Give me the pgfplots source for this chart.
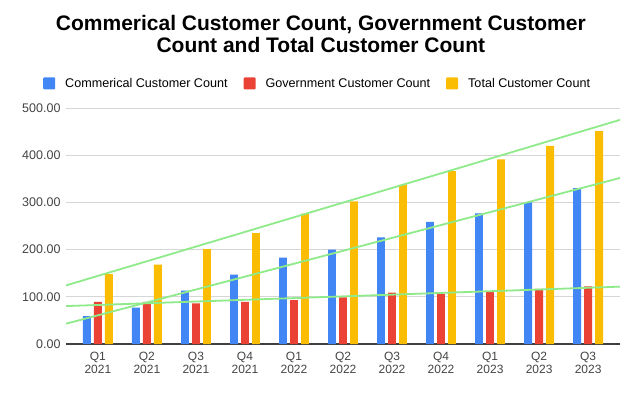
\documentclass[border=0pt]{standalone}
\usepackage{pgfplots}
\pgfplotsset{compat=1.18}
\usepackage{fontspec}
\setmainfont{Liberation Sans}
\definecolor{cblue}{HTML}{4285F4}
\definecolor{cred}{HTML}{EA4335}
\definecolor{cyel}{HTML}{FBBC04}
\definecolor{ctrend}{HTML}{8FEA8A}
\definecolor{ticktext}{HTML}{444444}
\definecolor{gridc}{HTML}{D6D6D6}
\begin{document}
\begin{tikzpicture}
\path[use as bounding box] (0bp,0bp) rectangle (640bp,396bp);
\begin{axis}[
  at={(66bp,52bp)}, anchor=south west,
  scale only axis, width=554bp, height=236bp,
  xmin=-0.65, xmax=10.65, ymin=0, ymax=500,
  xtick={0,...,10},
  xticklabels={Q1\\2021,Q2\\2021,Q3\\2021,Q4\\2021,Q1\\2022,Q2\\2022,Q3\\2022,Q4\\2022,Q1\\2023,Q2\\2023,Q3\\2023},
  xticklabel style={align=center, font=\fontsize{12bp}{13bp}\selectfont, text=ticktext, yshift=-5bp},
  ytick={0,100,...,500},
  yticklabel style={font=\fontsize{12.5bp}{14bp}\selectfont, text=ticktext, xshift=-2bp, /pgf/number format/fixed, /pgf/number format/fixed zerofill, /pgf/number format/precision=2},
  /pgf/number format/assume math mode=true,
  scaled y ticks=false,
  ymajorgrids, major grid style={gridc, line width=0.9bp},
  major tick length=0pt,
  axis x line*=bottom, axis y line*=left,
  x axis line style={draw=black!75, line width=1.2bp, -},
  y axis line style={draw=none},
  title={Commerical Customer Count, Government Customer\\Count and Total Customer Count},
  title style={at={(0.460,1.289)}, anchor=center, align=center, font=\fontsize{21bp}{21.6bp}\selectfont\bfseries},
  legend columns=3,
  legend style={at={(-0.0415,1.104)}, anchor=west, draw=none, fill=none, font=\fontsize{12.6bp}{15bp}\selectfont, column sep=0bp, inner sep=0pt,
    /tikz/every odd column/.append style={column sep=8bp},
    /tikz/every even column/.append style={column sep=14bp}},
  legend cell align=left,
  legend image code/.code={\fill[#1, rounded corners=1bp] (0bp,-6bp) rectangle (12bp,6bp);},
]
\addplot[ybar, bar width=7.8bp, bar shift=-11bp, fill=cblue, draw=none] coordinates {
(0,59) (1,77) (2,113) (3,147) (4,183) (5,200) (6,226) (7,259) (8,277) (9,300) (10,330)};
\addlegendentry{Commerical Customer Count}
\addplot[ybar, bar width=7.8bp, bar shift=0bp, fill=cred, draw=none] coordinates {
(0,89) (1,89) (2,86) (3,89) (4,93) (5,99) (6,109) (7,106) (8,111) (9,117) (10,122)};
\addlegendentry{Government Customer Count}
\addplot[ybar, bar width=7.8bp, bar shift=11bp, fill=cyel, draw=none] coordinates {
(0,148) (1,168) (2,201) (3,235) (4,276) (5,302) (6,337) (7,366) (8,391) (9,420) (10,451)};
\addlegendentry{Total Customer Count}
% trendlines (linear fits, endpoints at plot edges)
\addplot[sharp plot, forget plot, ctrend, line width=1.8bp] coordinates {(-0.65,43.0) (10.65,351.8)};
\addplot[sharp plot, forget plot, ctrend, line width=1.8bp] coordinates {(-0.65,80.3) (10.65,121.5)};
\addplot[sharp plot, forget plot, ctrend, line width=1.8bp] coordinates {(-0.65,124.1) (10.65,474.9)};
\end{axis}
\end{tikzpicture}
\end{document}
